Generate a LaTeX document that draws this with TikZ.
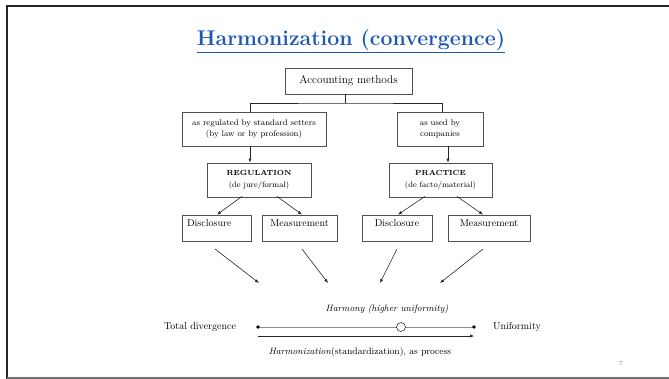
\documentclass[tikz,border=0pt]{standalone}
\usetikzlibrary{arrows.meta,calc}
\definecolor{titleblue}{RGB}{28,88,180}
\definecolor{boxline}{RGB}{80,80,80}
\begin{document}
\begin{tikzpicture}[x=1pt,y=-1pt,
  box/.style={draw=boxline,line width=0.8pt,inner sep=2pt,align=center,font=\fontsize{8.3}{10.5}\selectfont},
  leaf/.style={draw=boxline,line width=0.8pt,minimum height=26pt,text height=10pt,text depth=12pt,inner ysep=2pt,inner xsep=0pt,font=\fontsize{10}{12}\selectfont},
  conn/.style={draw=black!85,line width=0.6pt},
  arr/.style={conn,-{Latex[length=4pt,width=3.2pt]}},
  lbl/.style={inner sep=0pt,font=\fontsize{10}{12}\selectfont},
  ttl/.style={inner sep=0pt,font=\fontsize{21.3}{24}\bfseries\selectfont}]
\useasboundingbox (0,0) rectangle (669,379);
% slide frame
\draw[line width=2.4pt,black!85] (6,6) -- (669,6);
\draw[line width=2.4pt,black!85] (7,6) -- (7,379);
\draw[line width=1.4pt,black!55] (7,378) -- (669,378);
% title
\node[ttl,text=titleblue] (title) at (351,41) {\underline{Harmonization (convergence)}};
% boxes
\node[box,minimum width=127pt,minimum height=26pt,font=\fontsize{11.2}{13}\selectfont] (acc) at (348.5,81) {Accounting methods};
\node[box,minimum width=144pt,minimum height=34pt] (regby) at (254,129) {as regulated by standard setters\\(by law or by profession)};
\node[box,minimum width=86pt,minimum height=34pt] (used) at (440,129) {as used by\\companies};
\node[box,minimum width=104pt,minimum height=34pt,font=\fontsize{8}{11.5}\selectfont] (reg) at (259,180) {{\fontsize{7.4}{9}\bfseries\selectfont REGULATION}\\(de jure/formal)};
\node[box,minimum width=103pt,minimum height=34pt,font=\fontsize{8}{11.5}\selectfont] (prac) at (440.5,180) {{\fontsize{7.4}{9}\bfseries\selectfont PRACTICE}\\(de facto/material)};
\node[leaf,text width=59pt,inner xsep=5pt,align=left] (disL) at (216.5,228) {Disclosure};
\node[leaf,minimum width=75pt] (meaL) at (299.5,228) {Measurement};
\node[leaf,minimum width=70pt] (disR) at (397,228) {Disclosure};
\node[leaf,minimum width=82pt] (meaR) at (489,228) {Measurement};
% tree connector
\coordinate (junc) at (345,103);
\draw[conn] ([xshift=-3.5pt]acc.south) -- (junc);
\draw[conn] ([xshift=-4pt]regby.north) |- (junc) -| ([xshift=2pt]used.north);
% vertical arrows
\draw[arr] ([xshift=-4pt]regby.south) -- ([xshift=-4pt]regby.south |- reg.north);
\draw[arr] ([xshift=8pt]used.south) -- ([xshift=8pt]used.south |- prac.north);
% diagonal arrows
\draw[arr] ([xshift=-17pt,yshift=1pt]reg.south) -- ([xshift=0.5pt]disL.north);
\draw[arr] ([xshift=18pt,yshift=1pt]reg.south) -- ([xshift=2.5pt]meaL.north);
\draw[arr] ([xshift=-15.5pt,yshift=1pt]prac.south) -- ([xshift=1pt]disR.north);
\draw[arr] ([xshift=16.5pt,yshift=1pt]prac.south) -- ([xshift=-6pt]meaR.north);
% lower free arrows
\coordinate (s1) at (215,249); \coordinate (e1) at (259,283);
\coordinate (s2) at (302,249); \coordinate (e2) at (328,283);
\coordinate (s3) at (397,249); \coordinate (e3) at (380,283);
\coordinate (s4) at (483,249); \coordinate (e4) at (440,283);
\draw[arr] (s1) -- (e1);
\draw[arr] (s2) -- (e2);
\draw[arr] (s3) -- (e3);
\draw[arr] (s4) -- (e4);
% scale
\coordinate (lft) at (258,327);
\coordinate (rgt) at (474,327);
\draw[line width=0.9pt,black!45] (lft) -- (rgt);
\fill[black] (lft) circle (1.8pt);
\fill[black] (rgt) circle (1.8pt);
\node[circle,draw=black!80,fill=white,line width=0.6pt,minimum size=9pt,inner sep=0pt] (harm) at (401,327) {};
\coordinate (pl) at (258,336);
\coordinate (pr) at (474,336);
\draw[arr] (pl) -- (pr);
% labels
\node[lbl,font=\fontsize{9.3}{11}\itshape\selectfont] (harmtxt) at (387,309) {Harmony (higher uniformity)};
\node[lbl,font=\fontsize{9.3}{11}\selectfont] (proc) at (360,352) {\textit{Harmonization}(standardization), as process};
\node[lbl] (tdiv) at (200,327) {Total divergence};
\node[lbl] (unif) at (517,327) {Uniformity};
\node[lbl,font=\fontsize{6}{7}\selectfont,text=black!50] (pg) at (621,364) {7};
\end{tikzpicture}
\end{document}
